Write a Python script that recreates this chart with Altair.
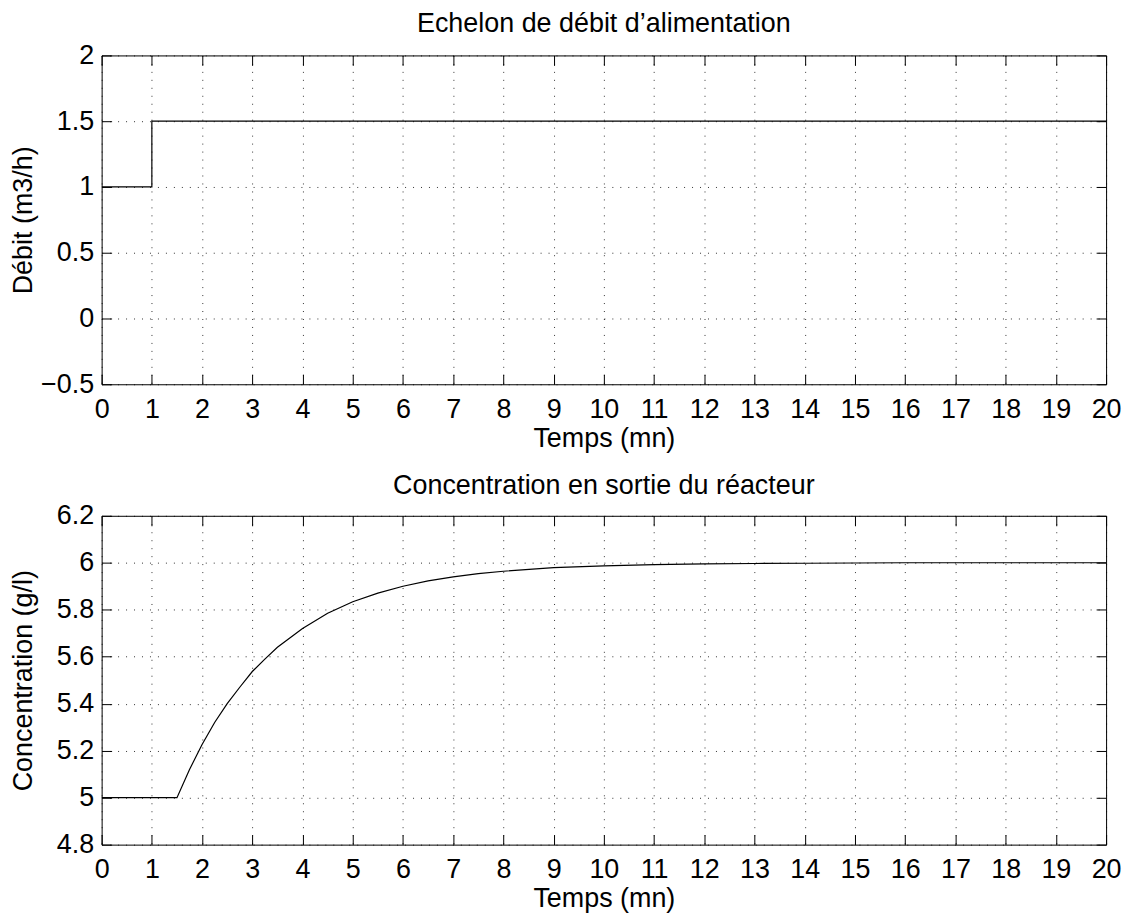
import altair as alt
import pandas as pd

FONT = "Liberation Sans"
FS = 27

# --- data ---
x_ticks = list(range(0, 21))

# top panel: feed-rate step
t_step = [0, 1, 1, 20]
q_step = [1.0, 1.0, 1.5, 1.5]
y_ticks_top = [-0.5, 0, 0.5, 1, 1.5, 2]

# bottom panel: reactor outlet concentration
t_conc = [0, 1.5, 1.75, 2, 2.25, 2.5, 2.75, 3, 3.25, 3.5, 4, 4.5, 5, 5.5, 6,
          6.5, 7, 7.5, 8, 9, 10, 11, 12, 13, 14, 15, 16, 17, 18, 19, 20]
c_conc = [5.0, 5.0, 5.12, 5.226, 5.32, 5.40, 5.47, 5.537, 5.59, 5.64, 5.72,
          5.785, 5.834, 5.871, 5.90, 5.923, 5.94, 5.954, 5.964, 5.979, 5.987,
          5.992, 5.995, 5.997, 5.998, 5.999, 6.0, 6.0, 6.0, 6.0, 6.0]
y_ticks_bot = [4.8, 5.0, 5.2, 5.4, 5.6, 5.8, 6.0, 6.2]

W, H = 1008, 330


def panel(df, ydom, yticks, ytitle, title, title_offset):
    xs = alt.Scale(domain=[0, 20], nice=False, zero=False)
    ys = alt.Scale(domain=ydom, nice=False, zero=False)
    base = alt.Chart(df)
    main = base.mark_line(color="black", strokeWidth=1.2, clip=True).encode(
        x=alt.X("t:Q", scale=xs, axis=alt.Axis(
            values=x_ticks, title="Temps (mn)", grid=True, ticks=False, domain=False,
            labelPadding=12, labelFontSize=FS, labelFont=FONT, labelColor="black",
            format="~g", labelFlush=False,
            titleFontSize=FS, titleFont=FONT, titleColor="black", titleFontWeight="normal",
            titleBaseline="top", titleY=41, titleX=W / 2,
            gridColor="#000000", gridDash=[1, 7], gridWidth=1, gridOpacity=0.8)),
        y=alt.Y("v:Q", scale=ys, axis=alt.Axis(
            values=yticks, title=ytitle, grid=True, ticks=False, domain=False,
            labelPadding=8, labelFontSize=FS, labelFont=FONT, labelColor="black",
            format="~g", labelFlush=False,
            titleFontSize=FS, titleFont=FONT, titleColor="black", titleFontWeight="normal",
            titleBaseline="alphabetic", titleX=-70, titleY=H / 2, titleAngle=270,
            gridColor="#000000", gridDash=[1, 7], gridWidth=1, gridOpacity=0.8)),
    )
    ticks_bl = base.mark_line(opacity=0).encode(
        x=alt.X("t:Q", scale=xs, title=None, axis=alt.Axis(
            orient="bottom", values=x_ticks, labels=False, domain=False, grid=False,
            ticks=True, tickSize=10, offset=-10, tickColor="black", tickWidth=1)),
        y=alt.Y("v:Q", scale=ys, title=None, axis=alt.Axis(
            orient="left", values=yticks, labels=False, domain=False, grid=False,
            ticks=True, tickSize=10, offset=-10, tickColor="black", tickWidth=1)),
    )
    ticks_tr = base.mark_line(opacity=0).encode(
        x=alt.X("t:Q", scale=xs, title=None, axis=alt.Axis(
            orient="top", values=x_ticks, labels=False, domain=False, grid=False,
            ticks=True, tickSize=10, offset=-10, tickColor="black", tickWidth=1)),
        y=alt.Y("v:Q", scale=ys, title=None, axis=alt.Axis(
            orient="right", values=yticks, labels=False, domain=False, grid=False,
            ticks=True, tickSize=10, offset=-10, tickColor="black", tickWidth=1)),
    )
    return alt.layer(main, ticks_bl, ticks_tr).resolve_axis(
        x="independent", y="independent"
    ).properties(
        width=W, height=H,
        title=alt.TitleParams(text=title, fontSize=FS, font=FONT, fontWeight="normal",
                              color="black", anchor="middle", baseline="alphabetic",
                              offset=title_offset),
    )


df_top = pd.DataFrame({"t": t_step, "v": q_step})
df_bot = pd.DataFrame({"t": t_conc, "v": c_conc})

top = panel(df_top, [-0.5, 2], y_ticks_top, "Débit (m3/h)",
            "Echelon de débit d\u2019alimentation", -17)
bot = panel(df_bot, [4.8, 6.2], y_ticks_bot, "Concentration (g/l)",
            "Concentration en sortie du réacteur", -19)

chart = alt.vconcat(top, bot, spacing=132, bounds="flush").properties(
    padding={"left": 9, "top": 7, "right": 8, "bottom": 2},
    background="white",
).configure_view(stroke="black", strokeWidth=1)

chart.save("out.html", embed_options={"renderer": "svg", "actions": False})
